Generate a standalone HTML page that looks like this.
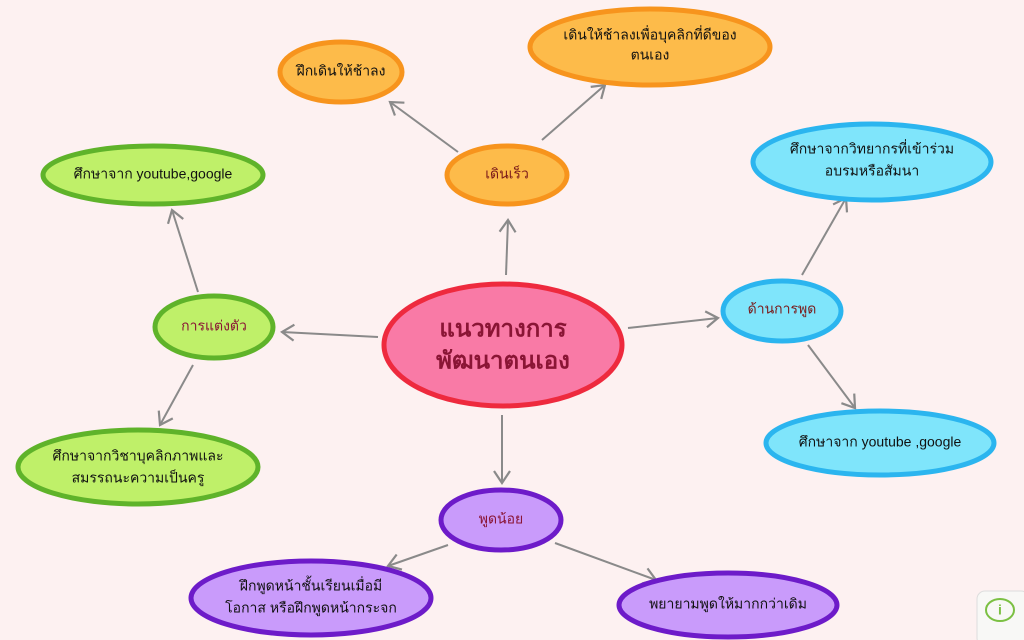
<!DOCTYPE html>
<html><head><meta charset="utf-8"><style>
html,body{margin:0;padding:0;background:#fdf1f1;}
svg{display:block}
text{font-family:"Liberation Sans","DejaVu Sans",sans-serif;text-anchor:middle;dominant-baseline:middle}
</style></head><body>
<svg width="1024" height="640" viewBox="0 0 1024 640" xmlns="http://www.w3.org/2000/svg">
<defs>
<marker id="a" markerWidth="20" markerHeight="20" refX="14" refY="10" orient="auto" markerUnits="userSpaceOnUse">
<path d="M2,2 L14,10 L2,18" fill="none" stroke="#8a8a8a" stroke-width="2.2"/>
</marker>
</defs>
<rect width="1024" height="640" fill="#fdf1f1"/>
<g stroke="#8a8a8a" stroke-width="2" marker-end="url(#a)" fill="none">
<line x1="506" y1="275" x2="508" y2="220"/>
<line x1="458" y1="152" x2="390" y2="102"/>
<line x1="542" y1="140" x2="605" y2="85"/>
<line x1="628" y1="328" x2="718" y2="318"/>
<line x1="802" y1="275" x2="846" y2="198"/>
<line x1="808" y1="345" x2="855" y2="408"/>
<line x1="378" y1="337" x2="282" y2="332"/>
<line x1="198" y1="292" x2="172" y2="210"/>
<line x1="193" y1="365" x2="160" y2="425"/>
<line x1="502" y1="415" x2="502" y2="483"/>
<line x1="448" y1="545" x2="388" y2="566"/>
<line x1="555" y1="543" x2="656" y2="580"/>
</g>
<g stroke-width="5">
<ellipse cx="503" cy="345" rx="119" ry="61" fill="#f97aa6" stroke="#ee2a3e"/>
<ellipse cx="507" cy="175" rx="60" ry="29" fill="#fdbb4a" stroke="#f7941d"/>
<ellipse cx="341" cy="72" rx="61" ry="30" fill="#fdbb4a" stroke="#f7941d"/>
<ellipse cx="650" cy="47" rx="120" ry="38" fill="#fdbb4a" stroke="#f7941d"/>
<ellipse cx="782" cy="311" rx="59" ry="30" fill="#7fe5fb" stroke="#2bb5ef"/>
<ellipse cx="872" cy="162" rx="119" ry="38" fill="#7fe5fb" stroke="#2bb5ef"/>
<ellipse cx="880" cy="443" rx="114" ry="32" fill="#7fe5fb" stroke="#2bb5ef"/>
<ellipse cx="214" cy="327" rx="59" ry="31" fill="#bff069" stroke="#5fb32a"/>
<ellipse cx="153" cy="175" rx="110" ry="29" fill="#bff069" stroke="#5fb32a"/>
<ellipse cx="138" cy="467" rx="120" ry="37" fill="#bff069" stroke="#5fb32a"/>
<ellipse cx="501" cy="520" rx="60" ry="30" fill="#c99bfb" stroke="#6d1bc9"/>
<ellipse cx="311" cy="598" rx="120" ry="37" fill="#c99bfb" stroke="#6d1bc9"/>
<ellipse cx="728" cy="605" rx="109" ry="32" fill="#c99bfb" stroke="#6d1bc9"/>
</g>
<g font-size="24" font-weight="bold" fill="#8a1535">
<text x="503" y="330">แนวทางการ</text>
<text x="503" y="362">พัฒนาตนเอง</text>
</g>
<g font-size="14" fill="#111">
<text x="507" y="175" fill="#7a1a1a">เดินเร็ว</text>
<text x="341" y="72">ฝึกเดินให้ช้าลง</text>
<text x="650" y="36">เดินให้ช้าลงเพื่อบุคลิกที่ดีของ</text>
<text x="650" y="56">ตนเอง</text>
<text x="782" y="310" fill="#7a1a1a">ด้านการพูด</text>
<text x="872" y="150">ศึกษาจากวิทยากรที่เข้าร่วม</text>
<text x="872" y="172">อบรมหรือสัมนา</text>
<text x="880" y="443">ศึกษาจาก youtube ,google</text>
<text x="214" y="327" fill="#8a1535">การแต่งตัว</text>
<text x="153" y="175">ศึกษาจาก youtube,google</text>
<text x="138" y="457">ศึกษาจากวิชาบุคลิกภาพและ</text>
<text x="138" y="479">สมรรถนะความเป็นครู</text>
<text x="501" y="520" fill="#8a1535">พูดน้อย</text>
<text x="311" y="587">ฝึกพูดหน้าชั้นเรียนเมื่อมี</text>
<text x="311" y="609">โอกาส หรือฝึกพูดหน้ากระจก</text>
<text x="728" y="605">พยายามพูดให้มากกว่าเดิม</text>
</g>
<rect x="977" y="591" width="52" height="55" rx="8" fill="#f8f8f6" stroke="#ddd"/>
<ellipse cx="1000" cy="610" rx="14" ry="11" fill="none" stroke="#7bc043" stroke-width="2"/>
<text x="1000" y="611" font-size="14" fill="#7bc043" font-weight="bold">i</text>
</svg>
</body></html>
